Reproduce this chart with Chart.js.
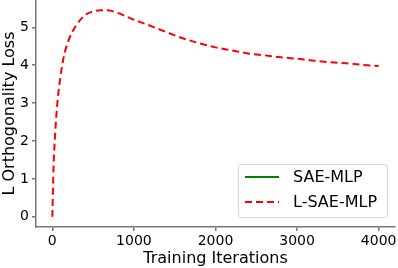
<!DOCTYPE html>
<html>
<head>
    <title>L Orthogonality Loss</title>
    <script src="https://cdn.jsdelivr.net/npm/chart.js"></script>
    <style>
        body { margin: 0; background: #fff; }
    </style>
</head>
<body>
    <canvas id="chart" width="398" height="268"></canvas>

    <script>
        // values
        const iterations = [0, 15, 35, 65, 100, 140, 200, 280, 400, 500, 600, 700, 800, 1000, 1200, 1400, 1600, 1800, 2000, 2200, 2400, 2600, 2800, 3000, 3200, 3400, 3600, 3800, 4000];
        const lsaeLoss = [0, 1.3, 2.2, 3.08, 3.7, 4.22, 4.66, 5.01, 5.32, 5.42, 5.45, 5.44, 5.38, 5.2, 5.04, 4.87, 4.71, 4.58, 4.47, 4.39, 4.31, 4.26, 4.21, 4.17, 4.12, 4.08, 4.05, 4.01, 3.98];
        const saeLoss = []; // SAE-MLP line is not visible in the picture
        const xTicks = [0, 1000, 2000, 3000, 4000];
        const yTicks = [0, 1, 2, 3, 4, 5];

        const FONT = '"DejaVu Sans", sans-serif';
        const axisColor = '#777';

        const legendBox = {
            id: 'legendBox',
            afterDraw(chart) {
                const { ctx, chartArea } = chart;
                const w = 149, h = 53;
                const x = chartArea.right - 8 - w;
                const y = chartArea.bottom - 10 - h;
                ctx.save();
                ctx.fillStyle = 'rgba(255,255,255,0.85)';
                ctx.strokeStyle = '#d6d6d6';
                ctx.lineWidth = 1;
                ctx.beginPath();
                ctx.roundRect(x + 0.5, y + 0.5, w, h, 3);
                ctx.fill();
                ctx.stroke();
                ctx.font = '16px ' + FONT;
                ctx.textBaseline = 'middle';
                chart.data.datasets.forEach((ds, i) => {
                    const cy = y + 13 + i * 25;
                    ctx.strokeStyle = ds.borderColor;
                    ctx.lineWidth = 2;
                    ctx.setLineDash(ds.borderDash || []);
                    ctx.beginPath();
                    ctx.moveTo(x + 7, cy);
                    ctx.lineTo(x + 41, cy);
                    ctx.stroke();
                    ctx.setLineDash([]);
                    ctx.fillStyle = '#000';
                    ctx.fillText(ds.label, x + 55, cy + 1);
                });
                ctx.restore();
            }
        };

        new Chart(document.getElementById('chart'), {
            type: 'line',
            data: {
                datasets: [
                    {
                        label: 'SAE-MLP',
                        data: saeLoss,
                        borderColor: '#008000',
                        borderWidth: 2,
                        pointRadius: 0,
                    },
                    {
                        label: 'L-SAE-MLP',
                        data: iterations.map((it, i) => ({ x: it, y: lsaeLoss[i] })),
                        borderColor: '#ff0000',
                        borderWidth: 2,
                        borderDash: [7, 4],
                        pointRadius: 0,
                        cubicInterpolationMode: 'monotone',
                    },
                ],
            },
            options: {
                responsive: false,
                animation: false,
                layout: { padding: { top: 0, right: 3, bottom: 0, left: 0 } },
                plugins: {
                    legend: { display: false },
                    tooltip: { enabled: false },
                },
                scales: {
                    x: {
                        type: 'linear',
                        min: -200,
                        max: 4200,
                        afterBuildTicks: s => { s.ticks = xTicks.map(v => ({ value: v })); },
                        afterFit: s => { s.height = 41; s.paddingLeft = 0; s.paddingRight = 0; },
                        ticks: {
                            font: { family: FONT, size: 14 }, color: '#000', padding: 2, maxRotation: 0,
                            callback: v => String(v),
                        },
                        grid: { drawOnChartArea: false, tickLength: 4, color: axisColor, lineWidth: 1.5 },
                        border: { color: axisColor, width: 1.5 },
                        title: {
                            display: true,
                            text: 'Training Iterations',
                            font: { family: FONT, size: 16 },
                            color: '#000',
                            padding: { top: 0, bottom: 0 },
                        },
                    },
                    y: {
                        type: 'linear',
                        min: -0.27,
                        max: 5.72,
                        afterBuildTicks: s => { s.ticks = yTicks.map(v => ({ value: v })); },
                        afterFit: s => { s.width = 36; s.paddingTop = 0; s.paddingBottom = 0; },
                        ticks: {
                            font: { family: FONT, size: 14 }, color: '#000', padding: 3,
                            callback: v => String(v),
                        },
                        grid: { drawOnChartArea: false, tickLength: 4, color: axisColor, lineWidth: 1.5 },
                        border: { color: axisColor, width: 1.5 },
                        title: {
                            display: true,
                            text: 'L Orthogonality Loss',
                            font: { family: FONT, size: 16 },
                            color: '#000',
                            padding: { top: 0, bottom: 0 },
                        },
                    },
                },
            },
            plugins: [legendBox],
        });
    </script>
</body>
</html>
